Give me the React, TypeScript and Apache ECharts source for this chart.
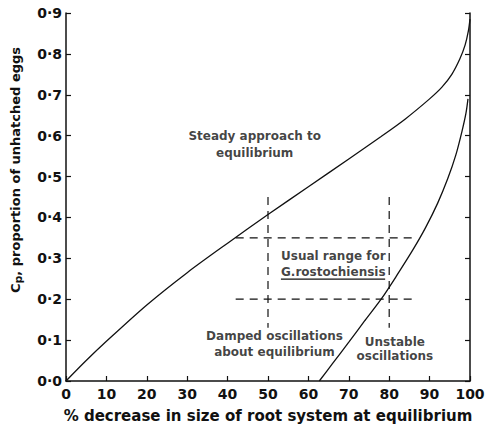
import React, { useEffect, useRef } from "react";
import * as echarts from "echarts";

// ---- data ----
const xMin = 0;
const xMax = 100;
const xStep = 10;
const yMin = 0;
const yMax = 0.9;
const yStep = 0.1;

// "Steady approach to equilibrium" boundary curve
const steadyCurve: [number, number][] = [
  [0, 0], [5, 0.05], [10, 0.097], [20, 0.186], [30, 0.265], [40, 0.337],
  [50, 0.407], [60, 0.475], [70, 0.543], [78, 0.598], [84, 0.641], [90, 0.69],
  [93, 0.718], [95.5, 0.75], [97.5, 0.788], [98.8, 0.822], [99.6, 0.856], [100, 0.885],
];

// "Unstable oscillations" boundary curve
const unstableCurve: [number, number][] = [
  [62.7, 0], [66, 0.043], [70, 0.095], [74, 0.148], [78, 0.2], [82, 0.26],
  [86, 0.323], [89, 0.375], [92, 0.435], [94.5, 0.495], [96.5, 0.553], [98, 0.61],
  [99, 0.655], [99.5, 0.69],
];

// dashed "usual range" box
const rangeXLeft = 50;
const rangeXRight = 80;
const rangeYLow = 0.2;
const rangeYHigh = 0.35;
const dashVExtent = [0.13, 0.45];
const dashHExtent = [42, 86];

// underline below G.rostochiensis
const underlineX = [53.2, 79];
const underlineY = 0.249;

const xAxisName = "% decrease in size of root system at equilibrium";
const yAxisNamePrefix = "C";
const yAxisNameSub = "p";
const yAxisNameRest = ", proportion of unhatched eggs";

const annotations = [
  { text: "Steady approach to\nequilibrium", x: 46.7, y: 0.578, pos: "inside", lh: 17 },
  { text: "Usual range for\nG.rostochiensis", x: 53.1, y: 0.286, pos: "right", lh: 16 },
  { text: "Damped oscillations\nabout equilibrium", x: 51.6, y: 0.09, pos: "inside", lh: 16.5 },
  { text: "Unstable\noscillations", x: 81.4, y: 0.079, pos: "inside", lh: 14 },
];

const FONT = "DejaVu Sans";
const INK = "#111";

export default function App() {
  const ref = useRef<HTMLDivElement>(null);

  useEffect(() => {
    if (!ref.current) return;
    const chart = echarts.init(ref.current, undefined, { renderer: "svg" });

    const seg = (pts: [number, number][], dashed: boolean, w = 1.2) => ({
      type: "line",
      data: pts,
      symbol: "none",
      silent: true,
      lineStyle: { color: INK, width: w, type: dashed ? [8, 6] : "solid" },
      z: 3,
    });

    const series: any[] = [
      {
        type: "line",
        data: steadyCurve,
        symbol: "none",
        smooth: 0.3,
        silent: true,
        lineStyle: { color: INK, width: 1.3 },
      },
      {
        type: "line",
        data: unstableCurve,
        symbol: "none",
        smooth: 0.3,
        silent: true,
        lineStyle: { color: INK, width: 1.3 },
      },
      seg([[rangeXLeft, dashVExtent[1]], [rangeXLeft, dashVExtent[0]]], true),
      seg([[rangeXRight, dashVExtent[1]], [rangeXRight, dashVExtent[0]]], true),
      seg([[dashHExtent[0], rangeYHigh], [dashHExtent[1], rangeYHigh]], true),
      seg([[dashHExtent[0], rangeYLow], [dashHExtent[1], rangeYLow]], true),
      seg([[underlineX[0], underlineY], [underlineX[1], underlineY]], false, 1.3),
      {
        type: "scatter",
        silent: true,
        symbolSize: 1,
        itemStyle: { color: "rgba(0,0,0,0)" },
        data: annotations.map((a) => ({
          value: [a.x, a.y],
          label: {
            show: true,
            position: a.pos,
            distance: 0,
            formatter: a.text,
            color: INK,
            fontFamily: FONT,
            fontWeight: "bold",
            fontSize: 12,
            lineHeight: a.lh,
            align: a.pos === "right" ? "left" : "center",
          },
        })),
        z: 5,
      },
    ];

    const yFmt = (v: number) => v.toFixed(1).replace(".", "·");

    chart.setOption({
      animation: false,
      backgroundColor: "#fff",
      grid: { left: 66, right: 15, top: 13, bottom: 50, outerBoundsMode: "none" },
      xAxis: {
        type: "value",
        min: xMin,
        max: xMax,
        interval: xStep,
        name: xAxisName,
        nameLocation: "middle",
        nameGap: 27,
        nameTextStyle: { fontFamily: FONT, fontWeight: "bold", fontSize: 15, color: INK },
        axisLine: { show: true, onZero: false, lineStyle: { color: INK, width: 1.5 } },
        axisTick: { show: true, inside: true, length: 5, lineStyle: { color: INK, width: 1.2 } },
        axisLabel: { fontFamily: FONT, fontWeight: "bold", fontSize: 14, color: INK, margin: 6 },
        splitLine: { show: false },
      },
      yAxis: [
        {
          type: "value",
          min: yMin,
          max: yMax,
          interval: yStep,
          name:
            "{g| }{b|" + yAxisNamePrefix + "}{s|" + yAxisNameSub + "}{b|" + yAxisNameRest + "}",
          nameLocation: "middle",
          nameGap: 42,
          nameTextStyle: {
            rich: {
              g: { width: 54, fontSize: 13 },
              b: { fontFamily: FONT, fontWeight: "bold", fontSize: 13, color: INK },
              s: {
                fontFamily: FONT,
                fontWeight: "bold",
                fontSize: 11,
                color: INK,
                padding: [6, 0, 0, 0],
              },
            },
          },
          axisLine: { show: true, onZero: false, lineStyle: { color: INK, width: 1.5 } },
          axisTick: { show: true, inside: true, length: 5, lineStyle: { color: INK, width: 1.2 } },
          axisLabel: {
            fontFamily: FONT,
            fontWeight: "bold",
            fontSize: 14,
            color: INK,
            margin: 4,
            formatter: yFmt,
          },
          splitLine: { show: false },
        },
        {
          type: "value",
          position: "right",
          min: yMin,
          max: yMax,
          interval: yStep,
          axisLine: { show: true, onZero: false, lineStyle: { color: INK, width: 1.5 } },
          axisTick: { show: true, inside: true, length: 5, lineStyle: { color: INK, width: 1.2 } },
          axisLabel: { show: false },
          splitLine: { show: false },
        },
      ],
      series,
    });

    return () => chart.dispose();
  }, []);

  return (
    <div
      ref={ref}
      style={{ position: "fixed", left: 0, top: 0, width: 485, height: 431, background: "#fff" }}
    />
  );
}
